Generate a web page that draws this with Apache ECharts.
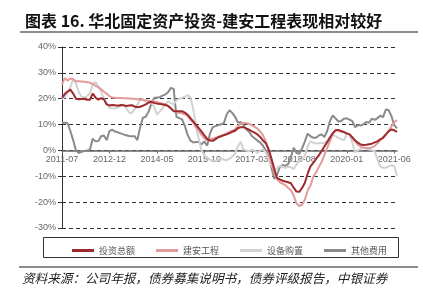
<!DOCTYPE html>
<html>
<head>
<meta charset="utf-8">
<script src="https://cdn.jsdelivr.net/npm/echarts@6/dist/echarts.min.js"></script>
<style>
    html,body{margin:0;padding:0;background:#fff;}
    #chart{width:423px;height:302px;}
</style>
</head>
<body>
<div id="chart"></div>
<script>
// 月份 2011-07 ~ 2021-07
var months=[];
for(var y=2011,m=7;y<2021||(y==2021&&m<=7);){
    months.push(y+'-'+(m<10?'0'+m:m));
    m++;
    if(m>12){m=1;y++;}
}

var seriesNames=['投资总额','建安工程','设备购置','其他费用'];
var yTicks=[-30,-20,-10,0,10,20,30,40];

var totalInv=[20.3,21.8,22.8,23.5,22,20,19.8,19.9,20,19.6,19.6,22,20.5,19.6,20.2,19.8,17.8,17.4,17.6,17.5,
    17.3,17.6,17.5,17.2,17.4,17.5,17,16.7,16.9,17.3,17.8,18.5,18.7,18.4,18.1,18,17.8,17.6,17.2,16.2,
    15.2,15.2,15.2,15.2,14.6,13.8,12.5,11.2,9.9,8.6,7.3,5.8,4.5,3.8,3.7,4.4,5.1,5.5,5.9,6.2,
    6.7,7.2,7.6,8.6,9,9,8.5,8,7.4,6.9,6.2,5.2,3.8,2.8,0.5,-3,-7,-10.6,-11.2,-11.7,
    -12,-12.3,-12.7,-14.4,-15.9,-16,-14.5,-12.5,-9,-6.2,-4.8,-3.3,-1.9,-0.2,1.5,3.2,5,6.7,7.8,7.9,
    7.4,7.1,6.6,6.2,5.1,3.9,3,2.3,2.1,2.2,2.4,2.6,3.1,3.5,4.3,4.9,6.2,7.4,8.1,7.8,7.2];
var construct=[25.5,28,27,27.8,27.5,26.8,26.8,26.7,26.6,26.4,26.2,25.7,25,24.5,23.7,22.7,22,20.9,20.5,20.4,
    20.3,20.3,20.2,20.2,20.1,20,20,19.8,19.7,19.5,19.4,19.2,19.1,19,18.7,18.4,18.1,17.9,17.2,16.4,
    15.2,14.8,14.6,14.4,14,13.3,11.9,10.7,9,7.6,6,4.7,3.9,4.5,4.5,4.9,5.3,5.6,6.1,6.7,
    7.2,7.6,8.2,9.4,10.4,10.6,10.6,10.2,9.8,9.1,8.4,7.3,5.9,3.5,0,-4.6,-8.8,-11,-12.3,-12.8,
    -13.4,-14.5,-15.4,-17.5,-20.5,-21.5,-21,-19,-15.5,-13.6,-10.2,-8.5,-6.4,-4.5,-1.7,1,3.6,6.4,7.8,7.9,
    7.5,7.1,6.6,6.2,4.7,3.4,2.2,1.5,1,0.9,0.8,1.2,1.7,2.8,3.9,5,6,7.6,9.3,10.9,11.7];
var equipment=[19.7,20.8,22.2,24.5,27.5,26,22.5,20.8,20.4,21,22.1,25.5,26.5,24.7,22.6,20,18.2,16.4,16.2,16.3,
    16.6,17.1,17.8,16.3,14.7,14.5,16,17.8,19.6,19.9,19,18.9,18.4,17,13.9,15,16.3,17.8,19,18.3,
    17.9,19.4,20,20.3,20.8,21.4,20.5,16,9.6,4.3,0,-1.8,-2.8,-3.6,-3.9,-4.1,-3.6,-3.1,-3.6,-3.8,
    -3.2,-2.4,-1.2,1.5,3.4,0.4,0,-0.3,0.2,0,-1,0,0.4,-0.8,-3.5,-5.8,-7.5,-7,-6,-6.3,
    -6.7,-6.3,-6.5,-7.2,-5.5,-4,-3.7,-2,1.5,3.6,3,2.7,2.8,2.9,2.9,3.8,5.3,6,5.5,4.9,
    4.4,3.9,6.5,6.4,3,-0.8,0,0.6,1,0.7,0.4,0.1,-0.3,-3.5,-6.2,-6.7,-6.7,-6.2,-5.7,-6,-9.9];
var otherFee=[10.7,10.7,10.5,7.5,4,0,-1,-0.5,-0.2,0,0.3,4.5,3.5,3.6,5.5,5.8,4,7.5,8,7.3,
    7,6.6,6.2,5.9,5.6,5.5,5.5,4,9,12.7,13,15,18,20.3,20.5,20.6,21.2,21.6,22.5,24.2,
    23.8,13,12.5,12,9.5,6,3.8,3.1,3.3,3.3,2.4,3.5,1.8,6.5,9,9.4,9.8,10.1,10.6,14,
    15.5,14.5,13,10.8,11,9.8,8.2,7.2,5.6,4.7,3.8,3,1.8,0,-2.5,-6.5,-11,-9.5,-6.5,-5.6,
    -6,-5.3,-2.5,1,-1,-1.3,0.8,3.5,6.5,5.5,4.9,4.9,5.8,6.2,5.2,7.5,11.5,13.5,12.4,11.2,
    11.4,12.3,12.4,11.9,11.3,9,9.8,9.6,10.2,11,10.7,12.3,11.8,12.5,13.4,12.9,15.8,15.6,13.3,9.8,8.5];

var colors=['#9e2a2e','#e39b9b','#d2d2d2','#8a8a8a'];

var myChart=echarts.init(document.getElementById('chart'));

function lineSeries(idx,data,z){
    return {
        name:seriesNames[idx],
        type:'line',
        data:data,
        symbol:'none',
        z:z,
        itemStyle:{color:colors[idx]},
        lineStyle:{width:2,color:colors[idx]}
    };
}

var option={
    animation:false,
    textStyle:{fontFamily:'Arial, "Liberation Sans", "Noto Sans CJK SC"'},
    title:{
        text:'图表 16. 华北固定资产投资-建安工程表现相对较好',
        left:20,
        top:8,
        textStyle:{fontSize:16,fontWeight:'bold',color:'#111',fontFamily:'"Noto Sans CJK SC", Arial'}
    },
    legend:{
        data:seriesNames,
        left:67,
        top:241,
        itemWidth:22,
        itemHeight:3,
        itemGap:21,
        icon:'rect',
        textStyle:{fontSize:9,color:'#555',fontFamily:'"Noto Sans CJK SC"'}
    },
    grid:{
        left:62,
        right:26,
        top:47,
        bottom:74
    },
    xAxis:{
        type:'category',
        data:months,
        boundaryGap:false,
        offset:-77.6,
        axisLine:{onZero:false,lineStyle:{color:'#666',width:1.5}},
        axisTick:{show:true,interval:16,length:3,lineStyle:{color:'#666'}},
        axisLabel:{interval:16,fontSize:9,color:'#666',margin:5}
    },
    yAxis:{
        type:'value',
        min:yTicks[0],
        max:yTicks[yTicks.length-1],
        interval:10,
        axisLine:{show:true,lineStyle:{color:'#333',width:1}},
        axisTick:{show:true,length:4,lineStyle:{color:'#333'}},
        axisLabel:{formatter:'{value}%',fontSize:9,color:'#666',margin:6},
        splitLine:{show:true,lineStyle:{type:[4,3],color:'#333',width:1}}
    },
    graphic:[
        {type:'rect',shape:{x:20,y:31,width:398,height:2},style:{fill:'#8c8c8c'},silent:true},
        {type:'rect',shape:{x:43.5,y:237.5,width:355,height:20},style:{fill:'none',stroke:'#333',lineWidth:1},silent:true},
        {type:'rect',shape:{x:19,y:266,width:399,height:2},style:{fill:'#8c8c8c'},silent:true},
        {type:'text',left:22,top:272,style:{text:'资料来源：公司年报，债券募集说明书，债券评级报告，中银证券',
            font:'italic 12.6px "Noto Sans CJK SC"',fill:'#222'},silent:true}
    ],
    series:[
        lineSeries(3,otherFee,2),
        lineSeries(2,equipment,3),
        lineSeries(1,construct,4),
        lineSeries(0,totalInv,5)
    ]
};
myChart.setOption(option);
</script>
</body>
</html>
